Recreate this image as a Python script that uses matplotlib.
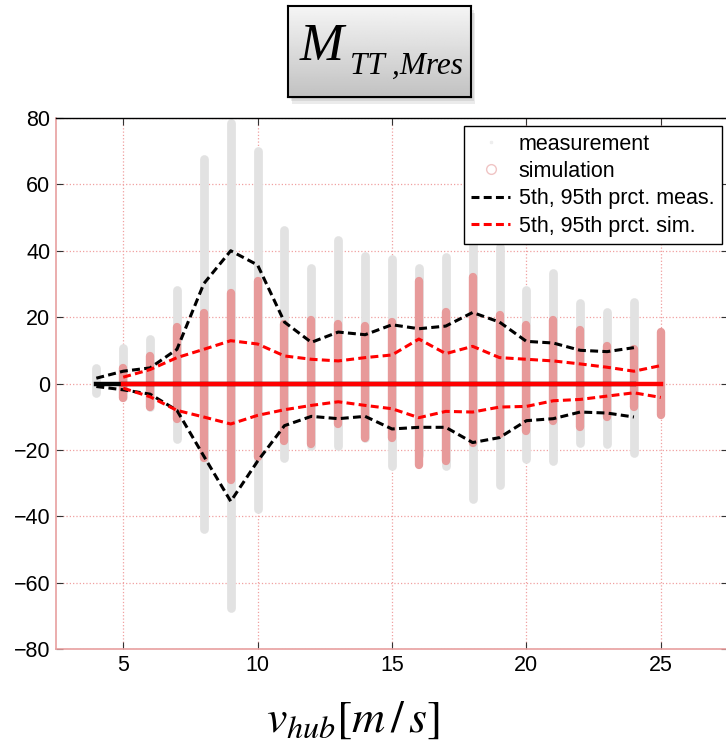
import numpy as np
import matplotlib
matplotlib.use("Agg")
import matplotlib.pyplot as plt
from matplotlib.lines import Line2D
from matplotlib.patches import Rectangle

plt.rcParams['font.family'] = ['Liberation Sans', 'DejaVu Sans']
plt.rcParams['mathtext.fontset'] = 'stix'

# hub wind speed bins [m/s]
v_meas = np.arange(4, 25)
v_sim = np.arange(5, 26)

# spread of the measured points per bin
meas_lo = [-3.0, -4.2, -7.1, -16.8, -43.9, -67.5, -37.8, -22.4, -18.8, -18.8, -16.3,
           -25.0, -21.4, -25.0, -34.7, -30.6, -22.9, -23.4, -17.8, -18.3, -20.9]
meas_hi = [4.7, 10.8, 13.4, 28.3, 67.7, 78.4, 70.2, 46.2, 34.9, 43.1, 38.5,
           37.5, 34.9, 38.0, 42.6, 41.0, 28.3, 33.4, 24.2, 21.6, 24.7]

# spread of the simulated points per bin
sim_lo = [-4.5, -7.1, -10.6, -22.4, -29.1, -22.0, -17.3, -18.3, -12.2, -16.3,
          -16.3, -24.5, -23.4, -17.8, -15.3, -14.2, -11.2, -13.2, -10.1, -7.1, -9.6]
sim_hi = [4.7, 8.3, 17.0, 21.1, 27.2, 31.0, 18.0, 19.0, 18.0, 17.3,
          18.5, 30.8, 21.6, 32.0, 20.6, 17.5, 19.0, 16.0, 11.4, 10.3, 15.5]

# percentiles
meas_p95 = [1.6, 3.7, 4.7, 10.3, 30.1, 40.0, 35.7, 18.5, 12.4, 15.5, 14.7,
            17.7, 16.5, 17.3, 21.4, 18.5, 12.7, 12.2, 10.0, 9.6, 10.8]
meas_p5 = [-0.9, -1.9, -3.2, -8.1, -21.9, -35.5, -23.4, -12.7, -9.9, -10.6, -9.9,
           -13.7, -13.2, -13.2, -17.8, -16.3, -11.2, -10.6, -8.6, -8.9, -10.1]
sim_p95 = [1.9, 4.2, 7.8, 10.3, 12.9, 11.9, 8.3, 7.3, 6.8, 7.8,
           8.6, 13.4, 9.0, 11.2, 7.8, 7.3, 6.8, 5.9, 4.9, 3.7, 5.4]
sim_p5 = [-1.4, -4.0, -8.1, -10.1, -12.2, -9.6, -7.9, -6.6, -5.5, -6.6,
          -7.6, -10.3, -8.4, -8.6, -7.1, -6.9, -5.2, -4.8, -3.8, -2.8, -4.2]

meas_mid = np.zeros(len(v_meas))
sim_mid = np.zeros(len(v_sim))

gray = '#e2e2e2'
pink = '#e79a9a'

fig = plt.figure(figsize=(7.26, 7.41), dpi=100)
ax = fig.add_axes([56 / 726, 92 / 741, 672 / 726, 531 / 741])

lc = ax.vlines(v_meas, meas_lo, meas_hi, colors=gray, linewidth=6.3, zorder=2)
lc.set_capstyle('round')
lc = ax.vlines(v_sim, sim_lo, sim_hi, colors=pink, linewidth=6.0, zorder=3)
lc.set_capstyle('round')

ax.plot(v_meas, meas_mid, color='black', lw=3.2, zorder=4)
ax.plot(v_sim, sim_mid, color='red', lw=3.2, zorder=5)

dash = (2.6, 1.4)
ax.plot(v_meas, meas_p95, color='black', lw=2.2, dashes=dash, zorder=6)
ax.plot(v_meas, meas_p5, color='black', lw=2.2, dashes=dash, zorder=6)
ax.plot(v_sim, sim_p95, color='red', lw=2.2, dashes=dash, zorder=6)
ax.plot(v_sim, sim_p5, color='red', lw=2.2, dashes=dash, zorder=6)

ax.set_xlim(2.5, 27.5)
ax.set_ylim(-80, 80)
ax.set_xticks([5, 10, 15, 20, 25])
ax.set_yticks(np.arange(-80, 81, 20))
ax.tick_params(direction='in', length=5, top=True, right=True, labelsize=15.5,
               color='#333333', pad=4)
ax.grid(True, color='#f0a0a0', linestyle=':', linewidth=0.9)
ax.set_axisbelow(True)
for side in ('left', 'bottom'):
    ax.spines[side].set_color('#e8a0a0')
    ax.spines[side].set_linewidth(1.2)
for side in ('top', 'right'):
    ax.spines[side].set_color('black')
    ax.spines[side].set_linewidth(1.0)

handles = [
    Line2D([], [], ls='none', marker='s', ms=2, color='#eeeeee'),
    Line2D([], [], ls='none', marker='o', ms=7, mfc='none', mec='#f0c4c4'),
    Line2D([], [], color='black', lw=2.2, dashes=dash),
    Line2D([], [], color='red', lw=2.2, dashes=dash),
]
labels = ['measurement', 'simulation', '5th, 95th prct. meas.', '5th, 95th prct. sim.']
leg = ax.legend(handles, labels, loc='upper right', bbox_to_anchor=(722 / 726, 1 - 126 / 741),
                bbox_transform=fig.transFigure, fontsize=15.5, frameon=True, fancybox=False,
                framealpha=1, edgecolor='black', handlelength=1.8, handletextpad=0.4,
                borderpad=0.35, labelspacing=0.3, borderaxespad=0)
leg.get_frame().set_linewidth(1.0)
leg.set_zorder(10)

# x label
fig.text(353 / 726, 1 - 720 / 741, r'$v_{hub}[m\,/\,s]$', fontsize=33,
         ha='center', va='center')

# title box with grey gradient and drop shadow
bx, by, bw, bh = 288 / 726, 1 - 97 / 741, 183 / 726, 91 / 741
for k in range(3):
    fig.patches.append(Rectangle((bx + 0.002 * (k + 1), by - 0.003 * (k + 1)), bw, bh,
                                 transform=fig.transFigure, facecolor='black',
                                 edgecolor='none', alpha=0.08, zorder=1))
tax = fig.add_axes([bx, by, bw, bh], zorder=2)
grad = np.linspace(0.96, 0.76, 100).reshape(-1, 1)
tax.imshow(grad, cmap='gray', vmin=0, vmax=1, aspect='auto', extent=[0, 1, 0, 1])
tax.set_xticks([])
tax.set_yticks([])
for s in tax.spines.values():
    s.set_linewidth(1.5)
    s.set_color('black')
serif = dict(family='Liberation Serif', style='italic', color='black')
fig.text(300 / 726, 1 - 60 / 741, 'M', fontsize=38, ha='left', va='baseline', zorder=5, **serif)
fig.text(350 / 726, 1 - 74 / 741, 'TT ,Mres', fontsize=22.5, ha='left', va='baseline',
         zorder=5, **serif)

fig.savefig('out.png', dpi=100)
